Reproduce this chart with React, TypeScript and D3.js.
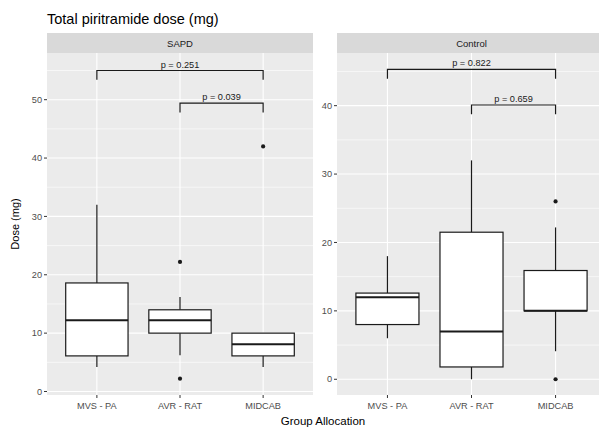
import * as d3 from 'd3';

const categories = ['MVS - PA', 'AVR - RAT', 'MIDCAB'];

// SAPD panel box stats (mg)
const sapdWhiskerLow = [4.2, 6.2, 4.2];
const sapdQ1 = [6.1, 10, 6.1];
const sapdMedian = [12.2, 12.2, 8.1];
const sapdQ3 = [18.6, 14, 10];
const sapdWhiskerHigh = [32, 16.2, 10];
const sapdOutliers = [[], [22.2, 2.2], [42]];
const sapdTicks = [0, 10, 20, 30, 40, 50];
const sapdBrackets = [
  { from: 0, to: 2, y: 55, label: 'p = 0.251' },
  { from: 1, to: 2, y: 49.4, label: 'p = 0.039' },
];

// Control panel box stats (mg)
const controlWhiskerLow = [6, 0, 4.1];
const controlQ1 = [8, 1.8, 10];
const controlMedian = [12, 7, 10];
const controlQ3 = [12.6, 21.5, 15.9];
const controlWhiskerHigh = [18, 32, 22.2];
const controlOutliers = [[], [], [26, 0]];
const controlTicks = [0, 10, 20, 30, 40];
const controlBrackets = [
  { from: 0, to: 2, y: 45.3, label: 'p = 0.822' },
  { from: 1, to: 2, y: 40.1, label: 'p = 0.659' },
];

const W = 599, H = 429;
const FONT = '"Liberation Sans", Arial, sans-serif';
const top = 53, bottom = 395, stripTop = 33;

function Panel({ title, x0, x1, domain, ticks, lo, q1, med, q3, hi, outliers, brackets }) {
  const x = d3.scaleLinear().domain([0.4, 3.6]).range([x0, x1]);
  const y = d3.scaleLinear().domain(domain).range([bottom, top]);
  const minor = d3.range(5, domain[1], 10).filter(v => v > domain[0]);
  const bw = x(1.75) - x(1);
  const tip = (domain[1] - domain[0]) * 0.027;
  const clipId = 'clip-' + title;
  const visRight = Math.min(x1, W);
  return (
    <g>
      <clipPath id={clipId}><rect x={x0} y={top} width={x1 - x0} height={bottom - top} /></clipPath>
      <rect x={x0} y={stripTop} width={x1 - x0} height={top - stripTop} fill="#D9D9D9" />
      <text x={(x0 + x1) / 2} y={46.5} textAnchor="middle" fontSize={9.5} fill="#1A1A1A" fontFamily={FONT}>{title}</text>
      <rect x={x0} y={top} width={visRight - x0 + (x1 - visRight)} height={bottom - top} fill="#EBEBEB" />
      <g clipPath={`url(#${clipId})`}>
        {minor.map(v => <line key={'m' + v} x1={x0} x2={x1} y1={y(v)} y2={y(v)} stroke="#fff" strokeWidth={0.6} />)}
        {ticks.map(v => <line key={'t' + v} x1={x0} x2={x1} y1={y(v)} y2={y(v)} stroke="#fff" strokeWidth={1.1} />)}
        {categories.map((c, i) => <line key={c} x1={x(i + 1)} x2={x(i + 1)} y1={top} y2={bottom} stroke="#fff" strokeWidth={1.1} />)}
        {categories.map((c, i) => {
          const cx = x(i + 1);
          return (
            <g key={'b' + c} stroke="#1A1A1A">
              <line x1={cx} x2={cx} y1={y(q3[i])} y2={y(hi[i])} strokeWidth={1.2} />
              <line x1={cx} x2={cx} y1={y(q1[i])} y2={y(lo[i])} strokeWidth={1.2} />
              <rect x={cx - bw / 2} y={y(q3[i])} width={bw} height={y(q1[i]) - y(q3[i])} fill="#fff" strokeWidth={1.2} />
              <line x1={cx - bw / 2} x2={cx + bw / 2} y1={y(med[i])} y2={y(med[i])} strokeWidth={2} />
              {outliers[i].map((v, k) => <circle key={k} cx={cx} cy={y(v)} r={2.1} fill="#1A1A1A" stroke="none" />)}
            </g>
          );
        })}
        {brackets.map(b => {
          const xa = x(b.from + 1), xb = x(b.to + 1), yy = y(b.y);
          return (
            <g key={b.label}>
              <path d={`M${xa},${y(b.y - tip)}V${yy}H${xb}V${y(b.y - tip)}`} fill="none" stroke="#1A1A1A" strokeWidth={1.2} />
              <text x={(xa + xb) / 2} y={yy - 3} textAnchor="middle" fontSize={9.2} fill="#1A1A1A" fontFamily={FONT}>{b.label}</text>
            </g>
          );
        })}
      </g>
      {ticks.map(v => (
        <g key={'yl' + v}>
          <line x1={x0 - 3} x2={x0} y1={y(v)} y2={y(v)} stroke="#333" strokeWidth={1} />
          <text x={x0 - 5} y={y(v)} dy="0.35em" textAnchor="end" fontSize={9.2} fill="#4D4D4D" fontFamily={FONT}>{v}</text>
        </g>
      ))}
      {categories.map((c, i) => (
        <g key={'xl' + c}>
          <line x1={x(i + 1)} x2={x(i + 1)} y1={bottom} y2={bottom + 3} stroke="#333" strokeWidth={1} />
          <text x={x(i + 1)} y={bottom + 14} textAnchor="middle" fontSize={9.2} fill="#4D4D4D" fontFamily={FONT}>{c}</text>
        </g>
      ))}
    </g>
  );
}

export default function App() {
  return (
    <svg width={W} height={H} style={{ position: 'absolute', left: 0, top: 0, background: '#fff' }}>
      <text x={47} y={24} fontSize={14.5} fill="#000" fontFamily={FONT}>Total piritramide dose (mg)</text>
      <Panel title="SAPD" x0={47} x1={313} domain={[-0.6, 58]} ticks={sapdTicks}
        lo={sapdWhiskerLow} q1={sapdQ1} med={sapdMedian} q3={sapdQ3} hi={sapdWhiskerHigh}
        outliers={sapdOutliers} brackets={sapdBrackets} />
      <Panel title="Control" x0={337} x1={606} domain={[-2.3, 47.7]} ticks={controlTicks}
        lo={controlWhiskerLow} q1={controlQ1} med={controlMedian} q3={controlQ3} hi={controlWhiskerHigh}
        outliers={controlOutliers} brackets={controlBrackets} />
      <text transform={`translate(19,${(top + bottom) / 2}) rotate(-90)`} textAnchor="middle" fontSize={11} fill="#000" fontFamily={FONT}>Dose (mg)</text>
      <text x={323} y={425} textAnchor="middle" fontSize={11.5} fill="#000" fontFamily={FONT}>Group Allocation</text>
    </svg>
  );
}
